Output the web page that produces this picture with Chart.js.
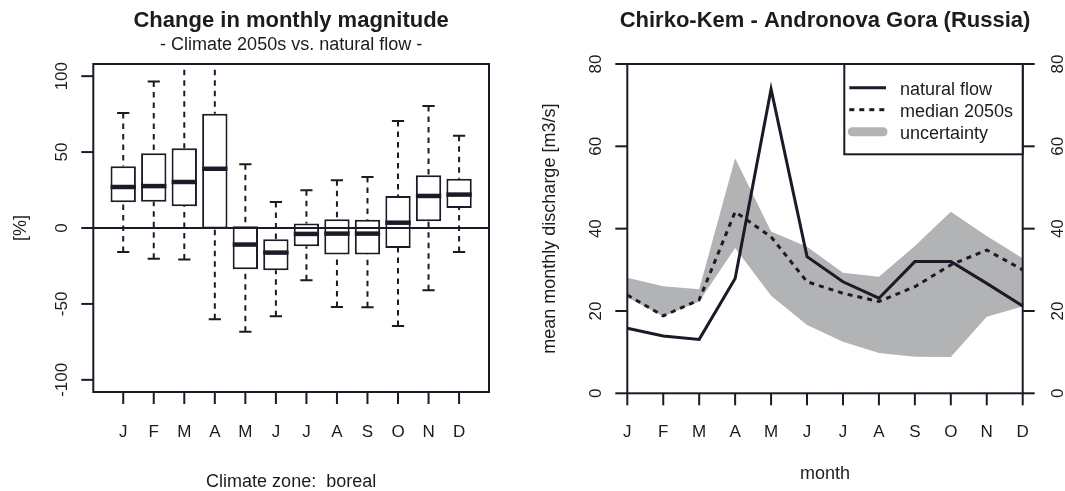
<!DOCTYPE html>
<html><head><meta charset="utf-8">
<script src="https://cdn.jsdelivr.net/npm/chart.js@4.4.1/dist/chart.umd.min.js"></script>
<style>
html,body{margin:0;padding:0;background:#fff;}
#wrap{position:relative;width:1065px;height:491px;overflow:hidden;}
canvas{position:absolute;top:0;}
#c1{left:0;} #c2{left:530px;}
</style></head><body>
<div id="wrap"><canvas id="c1" width="530" height="491"></canvas><canvas id="c2" width="535" height="491"></canvas></div>
<script>
// ---------- data ----------
const months = ['J','F','M','A','M','J','J','A','S','O','N','D'];
// left panel: change in monthly magnitude [%] (boxplot statistics)
const whiskerLow  = [-15.8,-20.2,-20.8,-60.1,-68.4,-58.1,-34.4,-52.0,-52.2,-64.5,-41.0,-15.8];
const quart1      = [16.9, 17.3, 14.3, -0.4,-27.2,-27.8,-12.0,-17.5,-17.5,-13.2,  4.4, 13.2];
const medianChg   = [27.0, 27.6, 30.3, 39.0,-10.9,-16.2, -3.9, -3.7, -3.7,  3.5, 21.1, 22.0];
const quart3      = [40.6, 49.3, 52.6, 75.2,  1.1, -7.4,  2.9,  5.7,  5.5, 21.1, 34.7, 32.5];
const whiskerHigh = [75.7, 96.5,118.0,125.0, 41.9, 17.1, 24.8, 31.4, 33.6, 70.4, 80.3, 60.8];
const leftTicks = [-100,-50,0,50,100];
// right panel: mean monthly discharge [m3/s]
const naturalFlow = [15.8,13.9,13.1,27.9,73.9,33.2,27.1,23.1,32.0,32.0,26.7,21.2];
const median2050s = [23.9,18.8,22.7,44.1,38.0,27.1,24.3,22.3,25.9,31.2,34.8,30.0];
const bandUpper   = [28.1,26.0,25.3,57.1,39.3,35.6,29.3,28.3,35.8,44.1,38.2,32.8];
const bandLower   = [23.3,18.7,22.3,35.3,23.7,16.6,12.5, 9.8, 8.9, 8.8,18.6,21.1];
const rightTicks = [0,20,40,60,80];

// ---------- styles ----------
const INK = '#1b1a26';
const TXT = '#1c1c1c';
const GRAY = '#b1b3b4';
const FONT = '"Liberation Sans", Arial, sans-serif';

function txt(ctx, s, x, y, size, bold, align, rot) {
  ctx.save();
  ctx.translate(x, y);
  if (rot) ctx.rotate(rot);
  ctx.font = (bold ? 'bold ' : '') + size + 'px ' + FONT;
  ctx.textAlign = align || 'center';
  ctx.textBaseline = 'alphabetic';
  ctx.fillStyle = TXT;
  ctx.fillText(s, 0, 0);
  ctx.restore();
}
function seg(ctx, x1, y1, x2, y2, w, dash, cap) {
  ctx.save();
  ctx.strokeStyle = INK; ctx.lineWidth = w;
  ctx.setLineDash(dash || []);
  ctx.lineCap = cap || 'butt';
  ctx.beginPath(); ctx.moveTo(x1, y1); ctx.lineTo(x2, y2); ctx.stroke();
  ctx.restore();
}

// ---------- left chart ----------
const leftPlugin = {
  id: 'leftDeco',
  beforeDatasetsDraw(chart) {
    const {ctx, chartArea: a, scales: {x, y}} = chart;
    ctx.save();
    ctx.beginPath(); ctx.rect(a.left, a.top, a.right - a.left, a.bottom - a.top); ctx.clip();
    const half = x.getPixelForValue(1.2) - x.getPixelForValue(1);
    months.forEach((m, i) => {
      const px = x.getPixelForValue(i + 1);
      seg(ctx, px, y.getPixelForValue(whiskerHigh[i]), px, y.getPixelForValue(quart3[i]), 2, [5.5, 5]);
      seg(ctx, px, y.getPixelForValue(whiskerLow[i]), px, y.getPixelForValue(quart1[i]), 2, [5.5, 5]);
      seg(ctx, px - half, y.getPixelForValue(whiskerHigh[i]), px + half, y.getPixelForValue(whiskerHigh[i]), 2);
      seg(ctx, px - half, y.getPixelForValue(whiskerLow[i]), px + half, y.getPixelForValue(whiskerLow[i]), 2);
    });
    ctx.restore();
  },
  afterDatasetsDraw(chart) {
    const {ctx, chartArea: a, scales: {x, y}} = chart;
    const meta = chart.getDatasetMeta(0);
    // medians
    meta.data.forEach((bar, i) => {
      const w = bar.width / 2;
      const py = y.getPixelForValue(medianChg[i]);
      seg(ctx, bar.x - w, py, bar.x + w, py, 4.5);
    });
    // zero line
    const y0 = y.getPixelForValue(0);
    seg(ctx, a.left, y0, a.right, y0, 2);
    // frame
    ctx.save(); ctx.strokeStyle = INK; ctx.lineWidth = 2;
    ctx.strokeRect(a.left, a.top, a.right - a.left, a.bottom - a.top); ctx.restore();
    // y ticks
    leftTicks.forEach(t => {
      const py = y.getPixelForValue(t);
      seg(ctx, a.left - 12, py, a.left, py, 2);
      txt(ctx, String(t), a.left - 26, py, 17, false, 'center', -Math.PI / 2);
    });
    // x ticks
    months.forEach((m, i) => {
      const px = x.getPixelForValue(i + 1);
      seg(ctx, px, a.bottom, px, a.bottom + 12, 2);
      txt(ctx, m, px, 437, 17, false, 'center');
    });
    const cx = (a.left + a.right) / 2;
    txt(ctx, 'Change in monthly magnitude', cx, 27, 22, true);
    txt(ctx, '- Climate 2050s vs. natural flow -', cx, 50, 18, false);
    txt(ctx, '[%]', 26, (a.top + a.bottom) / 2, 18, false, 'center', -Math.PI / 2);
    txt(ctx, 'Climate zone:  boreal', cx, 487, 18, false);
  }
};

new Chart(document.getElementById('c1'), {
  type: 'bar',
  data: {
    datasets: [{
      data: months.map((m, i) => ({x: i + 1, y: [quart1[i], quart3[i]]})),
      backgroundColor: '#ffffff',
      borderColor: INK,
      borderWidth: 2,
      borderSkipped: false,
      barPercentage: 0.83,
      categoryPercentage: 1
    }]
  },
  options: {
    responsive: false, animation: false, devicePixelRatio: 1,
    layout: {padding: {left: 93.3, right: 41, top: 64, bottom: 99}},
    scales: {
      x: {type: 'linear', min: 0.02, max: 12.98, offset: false, display: false, grid: {offset: false}},
      y: {type: 'linear', min: -108, max: 108, display: false}
    },
    plugins: {legend: {display: false}, tooltip: {enabled: false}}
  },
  plugins: [leftPlugin]
});

// ---------- right chart ----------
const rightPlugin = {
  id: 'rightDeco',
  afterDatasetsDraw(chart) {
    const {ctx, chartArea: a, scales: {x, y}} = chart;
    // frame
    ctx.save(); ctx.strokeStyle = INK; ctx.lineWidth = 2;
    ctx.strokeRect(a.left, a.top, a.right - a.left, a.bottom - a.top); ctx.restore();
    rightTicks.forEach(t => {
      const py = y.getPixelForValue(t);
      seg(ctx, a.left - 12, py, a.left, py, 2);
      seg(ctx, a.right, py, a.right + 12, py, 2);
      txt(ctx, String(t), a.left - 26, py, 17, false, 'center', -Math.PI / 2);
      txt(ctx, String(t), a.right + 40, py, 17, false, 'center', -Math.PI / 2);
    });
    months.forEach((m, i) => {
      const px = x.getPixelForValue(i);
      seg(ctx, px, a.bottom, px, a.bottom + 12, 2);
      txt(ctx, m, px, 437, 17, false, 'center');
    });
    const cx = (a.left + a.right) / 2;
    txt(ctx, 'Chirko-Kem - Andronova Gora (Russia)', cx, 27, 22, true);
    txt(ctx, 'month', cx, 479, 18, false);
    txt(ctx, 'mean monthly discharge [m3/s]', 25, (a.top + a.bottom) / 2, 18, false, 'center', -Math.PI / 2);
    // legend
    const lx = a.right - 178.4, ly = a.top, lw = 178.4, lh = 90.3;
    ctx.save();
    ctx.fillStyle = '#fff'; ctx.fillRect(lx, ly, lw, lh);
    ctx.strokeStyle = INK; ctx.lineWidth = 2; ctx.strokeRect(lx, ly, lw, lh);
    ctx.restore();
    const rows = [23.7, 45.7, 67.7];
    const names = ['natural flow', 'median 2050s', 'uncertainty'];
    const s0 = lx + 5, s1 = lx + 41.7;
    seg(ctx, s0, ly + rows[0], s1, ly + rows[0], 3);
    seg(ctx, s0, ly + rows[1], s1, ly + rows[1], 3, [5, 5]);
    ctx.save(); ctx.strokeStyle = GRAY; ctx.lineWidth = 9; ctx.lineCap = 'round';
    ctx.beginPath(); ctx.moveTo(s0 + 3, ly + rows[2]); ctx.lineTo(s1 - 3, ly + rows[2]); ctx.stroke(); ctx.restore();
    names.forEach((n, i) => txt(ctx, n, lx + 55.7, ly + rows[i] + 6.8, 18, false, 'left'));
  }
};

new Chart(document.getElementById('c2'), {
  type: 'line',
  data: {
    labels: months,
    datasets: [
      {label: 'natural flow', data: naturalFlow, borderColor: INK, borderWidth: 3, pointRadius: 0, fill: false, tension: 0, order: 0},
      {label: 'median 2050s', data: median2050s, borderColor: INK, borderWidth: 3, borderDash: [5, 5], pointRadius: 0, fill: false, tension: 0, order: 1},
      {label: 'uncertainty', data: bandUpper, borderColor: 'rgba(0,0,0,0)', borderWidth: 0, pointRadius: 0, fill: '+1', backgroundColor: GRAY, tension: 0, order: 2},
      {label: 'uncertainty low', data: bandLower, borderColor: 'rgba(0,0,0,0)', borderWidth: 0, pointRadius: 0, fill: false, tension: 0, order: 3}
    ]
  },
  options: {
    responsive: false, animation: false, devicePixelRatio: 1,
    layout: {padding: {left: 97.3, right: 42.3, top: 64, bottom: 97.7}},
    scales: {
      x: {type: 'category', offset: false, display: false},
      y: {type: 'linear', min: 0, max: 80, display: false}
    },
    plugins: {legend: {display: false}, tooltip: {enabled: false}, filler: {drawTime: 'beforeDatasetsDraw'}}
  },
  plugins: [rightPlugin]
});
</script>
</body></html>
